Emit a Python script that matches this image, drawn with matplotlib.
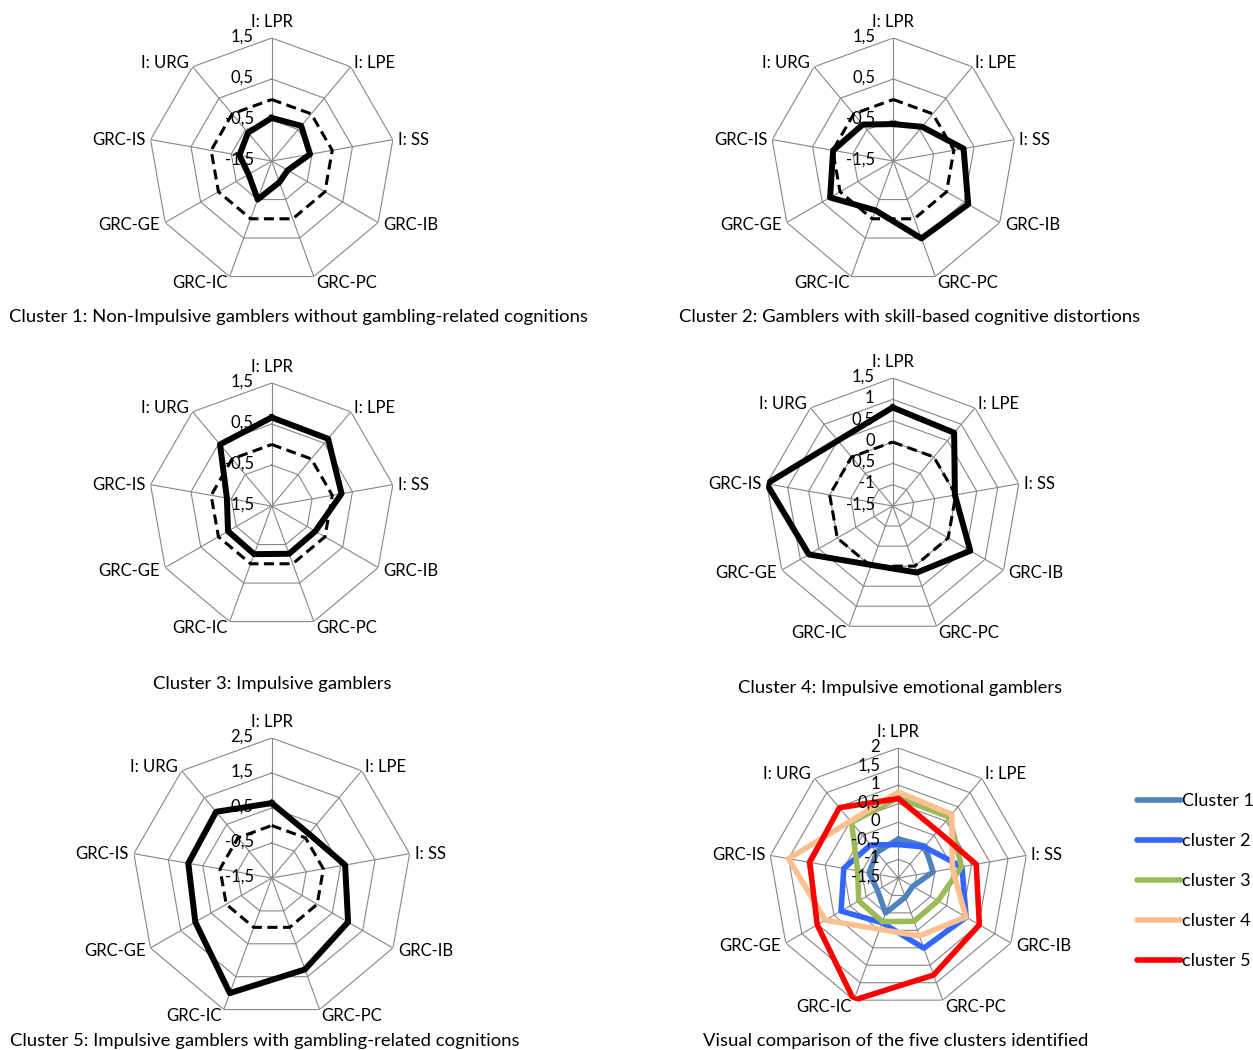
import matplotlib
matplotlib.use("Agg")
import matplotlib.pyplot as plt
import numpy as np

plt.rcParams['font.family'] = ['Lato', 'DejaVu Sans']

# axis order, clockwise from the top
axes_labels = ['I: LPR', 'I: LPE', 'I: SS', 'GRC-IB', 'GRC-PC',
               'GRC-IC', 'GRC-GE', 'GRC-IS', 'I: URG']

# z-scores
cluster1 = [-0.45, -0.38, -0.55, -1.05, -0.95, -0.50, -0.85, -0.70, -0.60]
cluster2 = [-0.60, -0.41, 0.24, 0.61, 0.51, -0.22, 0.28, -0.01, -0.34]
cluster3 = [0.66, 0.64, 0.23, -0.27, -0.26, -0.25, -0.27, -0.39, 0.46]
cluster4 = [0.81, 0.74, -0.02, 0.60, 0.16, -0.03, 0.77, 1.50, 0.50]
cluster5 = [0.64, 0.15, 0.63, 1.02, 1.28, 2.00, 1.02, 0.92, 0.97]
reference = [0] * 9

titles = ['Cluster 1: Non-Impulsive gamblers without gambling-related cognitions',
          'Cluster 2: Gamblers with skill-based cognitive distortions',
          'Cluster 3: Impulsive gamblers',
          'Cluster 4: Impulsive emotional gamblers',
          'Cluster 5: Impulsive gamblers with gambling-related cognitions',
          'Visual comparison of the five clusters identified']

legend_names = ['Cluster 1', 'cluster 2', 'cluster 3', 'cluster 4', 'cluster 5']
colors = ['#4F81BD', '#3366FF', '#9BBB59', '#FAC090', '#FF0000']

W, H = 1253, 1050
fig = plt.figure(figsize=(W / 100, H / 100), dpi=100)

# (center x, center y, radius) in pixels, r limits, tick step
layout = [
    (271.7, 161, 123, (-1.5, 1.5), 1.0),
    (893.3, 161, 123, (-1.5, 1.5), 1.0),
    (271.7, 506, 123, (-1.5, 1.5), 1.0),
    (892.7, 506, 128, (-1.5, 1.5), 0.5),
    (271.7, 878, 140, (-1.5, 2.5), 1.0),
    (898.3, 878, 130, (-1.5, 2.0), 0.5),
]
title_pos = [(298, 317), (910, 317), (272, 684), (900, 688), (265, 1041), (896, 1041)]

n = len(axes_labels)
theta = np.linspace(0, 2 * np.pi, n, endpoint=False)
theta_c = np.append(theta, theta[0])

# label offsets in pixels (dx, dy), ha, va
lab_fmt = [((0, 8), 'center', 'bottom'), ((3, 4), 'left', 'center'),
           ((5, 0), 'left', 'center'), ((5, -3), 'left', 'center'),
           ((2, -6.5), 'left', 'center'), ((-2, -6.5), 'right', 'center'),
           ((-5, -3), 'right', 'center'), ((-5, 0), 'right', 'center'),
           ((-4, 4), 'right', 'center')]


def fmt(v):
    s = ('%g' % round(v, 2)).replace('.', ',')
    return s


def closed(vals):
    return list(vals) + [vals[0]]


all_axes = []
for cx, cy, R, (rmin, rmax), step in layout:
    ax = fig.add_axes([(cx - R) / W, (H - cy - R) / H, 2 * R / W, 2 * R / H],
                      projection='polar')
    ax.set_theta_zero_location('N')
    ax.set_theta_direction(-1)
    ax.set_ylim(rmin, rmax)
    ax.grid(False)
    ax.spines['polar'].set_visible(False)
    ax.set_xticks([])
    ax.set_yticks([])
    ax.patch.set_alpha(0)
    ticks = np.arange(rmin, rmax + 1e-9, step)
    for t in ticks[1:]:
        ax.plot(theta_c, [t] * (n + 1), color='#868686', lw=0.8, zorder=1)
    for th in theta:
        ax.plot([th, th], [rmin, rmax], color='#868686', lw=0.8, zorder=1)
    for t in ticks:
        ax.annotate(fmt(t), xy=(0, t), xytext=(-13, 1), textcoords='offset points',
                    ha='right', va='center', fontsize=12, zorder=5)
    for th, lab, ((dx, dy), ha, va) in zip(theta, axes_labels, lab_fmt):
        ax.annotate(lab, xy=(th, rmax), xytext=(dx * 0.72, dy * 0.72),
                    textcoords='offset points', ha=ha, va=va, fontsize=12,
                    annotation_clip=False)
    all_axes.append(ax)

single = [cluster1, cluster2, cluster3, cluster4, cluster5]
for ax, vals in zip(all_axes[:5], single):
    ax.plot(theta_c, closed(reference), color='black', lw=2.2,
            linestyle=(0, (3.3, 1.8)), zorder=3)
    ax.plot(theta_c, closed(vals), color='black', lw=4.3,
            solid_joinstyle='round', zorder=4)

ax6 = all_axes[5]
handles = []
for vals, c in zip(single, colors):
    h, = ax6.plot(theta_c, closed(vals), color=c, lw=4.0,
                  solid_joinstyle='round', solid_capstyle='round', zorder=3)
    handles.append(h)

fig.legend(handles, legend_names, loc='upper left',
           bbox_to_anchor=(1137 / W, 1 - 793 / H), frameon=False, fontsize=13,
           handlelength=2.45, handletextpad=0.05, labelspacing=1.33,
           borderaxespad=0, borderpad=0)

for (tx, ty), t in zip(title_pos, titles):
    fig.text(tx / W, 1 - ty / H, t, ha='center', va='center', fontsize=13.3)

fig.savefig('out.png', dpi=100)
